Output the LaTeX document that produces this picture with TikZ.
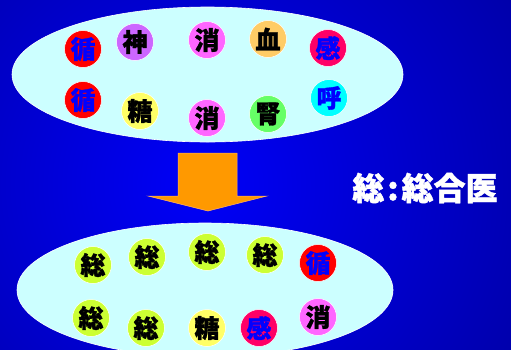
\documentclass[tikz,border=0pt]{standalone}
\usepackage{fontspec}
\usepackage{xcolor}
\newfontfamily\cjk{Noto Sans CJK JP}[BoldFeatures={FakeBold=1.2}]
\definecolor{bginner}{RGB}{0,0,248}
\definecolor{bgouter}{RGB}{0,0,120}
\definecolor{pale}{RGB}{204,255,255}
\definecolor{cred}{RGB}{255,0,0}
\definecolor{cpurple}{RGB}{204,102,255}
\definecolor{cpink}{RGB}{255,102,255}
\definecolor{corange}{RGB}{255,204,102}
\definecolor{ccrimson}{RGB}{255,0,102}
\definecolor{cyellow}{RGB}{255,255,102}
\definecolor{cgreen}{RGB}{102,255,102}
\definecolor{ccyan}{RGB}{0,255,255}
\definecolor{clime}{RGB}{204,255,51}
\definecolor{arroworange}{RGB}{255,153,0}

\begin{document}
\begin{tikzpicture}[x=1pt,y=-1pt,
    kanji/.style={circle,draw=white,line width=0.5pt,minimum size=37pt,inner sep=0pt,
      font=\cjk\bfseries\fontsize{25}{25}\selectfont},
    bluetext/.style={kanji,text=blue}]
        \useasboundingbox (0,0) rectangle (511,349);
        % background
        \begin{scope}
            \clip (0,0) rectangle (511,349);
            \shade[inner color=bginner,outer color=bgouter] (200,185) circle (600);
        \end{scope}
        % the two fields
        \draw[white,line width=0.6pt,fill=pale] (207.5,74.5) ellipse (195.5 and 67.5);
        \draw[white,line width=0.6pt,fill=pale] (205,290) ellipse (188 and 67);
        % arrow
        \draw[fill=arroworange,draw=orange!60!white,line width=0.5pt]
            (178,153) -- (237,153) -- (237,196) -- (267,196) -- (208,211)
            -- (148,196) -- (178,196) -- cycle;
        % before
        \node[bluetext,fill=cred] (t1) at (83,49) {循};
        \node[kanji,fill=cpurple] (t2) at (135,42) {神};
        \node[kanji,fill=cpink] (t3) at (207,40) {消};
        \node[kanji,fill=corange] (t4) at (268,39) {血};
        \node[bluetext,fill=ccrimson] (t5) at (328,48) {感};
        \node[bluetext,fill=cred] (t6) at (83,100) {循};
        \node[kanji,fill=cyellow] (t7) at (140,111) {糖};
        \node[kanji,fill=cpink] (t8) at (207,118) {消};
        \node[kanji,fill=cgreen] (t9) at (268,114) {腎};
        \node[bluetext,fill=ccyan] (t10) at (329,98) {呼};
        % after
        \node[kanji,fill=clime] (b1) at (93,265) {総};
        \node[kanji,fill=clime] (b2) at (147,257) {総};
        \node[kanji,fill=clime] (b3) at (207,252) {総};
        \node[kanji,fill=clime] (b4) at (265,255) {総};
        \node[bluetext,fill=cred] (b5) at (318,263) {循};
        \node[kanji,fill=clime] (b6) at (91,318) {総};
        \node[kanji,fill=clime] (b7) at (146,328) {総};
        \node[kanji,fill=cyellow] (b8) at (207,328) {糖};
        \node[bluetext,fill=ccrimson] (b9) at (259,328) {感};
        \node[kanji,fill=cpink] (b10) at (318,317) {消};
        % legend
        \node[text=white,font=\cjk\bfseries\fontsize{32}{32}\selectfont] (key) at (425,188) {総\hspace{3pt}:\hspace{3pt}総合医};
    \end{tikzpicture}
\end{document}
